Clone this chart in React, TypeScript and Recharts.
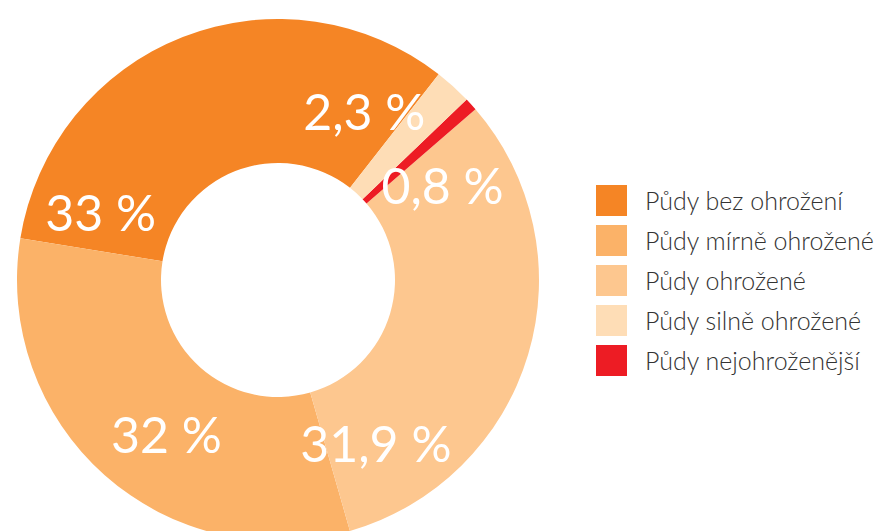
import { PieChart, Pie, Cell, Legend } from "recharts";

// legend order
const categories = [
  "Půdy bez ohrožení",
  "Půdy mírně ohrožené",
  "Půdy ohrožené",
  "Půdy silně ohrožené",
  "Půdy nejohroženější",
];
const shares = [33, 32, 31.9, 2.3, 0.8];
const colors = ["#F58525", "#FBB268", "#FDC78F", "#FEDDB6", "#ED1C24"];

// slices run counterclockwise in this order (red sits before the 2.3 % slice)
const drawOrder = [0, 1, 2, 4, 3];
// where each label sits on the ring, degrees, legend order
const labelAngle = [159, 234, 301, 63, 30];

const data = drawOrder.map((i) => ({
  name: categories[i],
  value: shares[i],
  idx: i,
}));

const fmt = (v: number) => String(v).replace(".", ",") + " %";
const RAD = Math.PI / 180;
const FONT = "Lato, 'Open Sans', sans-serif";

const renderLabel = (props: any) => {
  const { cx, cy, index } = props;
  const i = data[index].idx;
  const r = 190;
  const a = labelAngle[i] * RAD;
  const x = cx + r * Math.cos(a);
  const y = cy - r * Math.sin(a);
  return (
    <text
      x={x}
      y={y}
      fill="#fff"
      textAnchor="middle"
      dominantBaseline="central"
      style={{ fontFamily: FONT, fontSize: 50, fontWeight: 400 }}
    >
      {fmt(data[index].value)}
    </text>
  );
};

const renderLegend = () => (
  <div style={{ fontFamily: FONT, fontWeight: 300 }}>
    {categories.map((c, i) => (
      <div
        key={c}
        style={{ display: "flex", alignItems: "center", height: 40 }}
      >
        <div
          style={{
            width: 31,
            height: 31,
            background: colors[i],
            marginRight: 18,
          }}
        />
        <span style={{ fontSize: 25, color: "#333" }}>{c}</span>
      </div>
    ))}
  </div>
);

export default function App() {
  return (
    <>
      <style>{`body{margin:0}`}</style>
      <PieChart width={879} height={531}>
        <Pie
          data={data}
          dataKey="value"
          cx={273}
          cy={275}
          innerRadius={117}
          outerRadius={261}
          startAngle={52}
          endAngle={412}
          stroke="none"
          label={renderLabel}
          labelLine={false}
          isAnimationActive={false}
        >
          {data.map((d) => (
            <Cell key={d.name} fill={colors[d.idx]} />
          ))}
        </Pie>
        <Legend
          content={renderLegend}
          wrapperStyle={{ left: 596, top: 180, width: 283 }}
        />
      </PieChart>
    </>
  );
}
